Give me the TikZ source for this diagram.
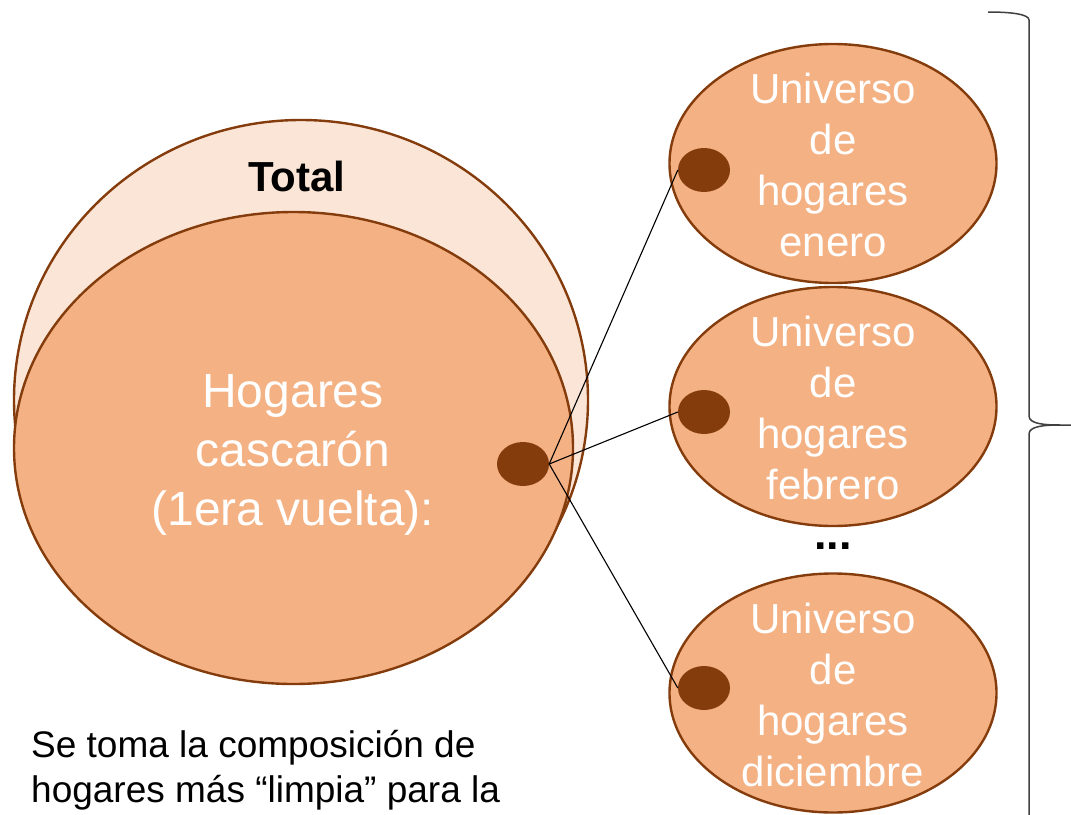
\documentclass[tikz,border=0pt]{standalone}
\usepackage{fontspec}
\setmainfont{Liberation Sans}
\usetikzlibrary{shapes.geometric}
\definecolor{edgebrown}{HTML}{843C0C}
\definecolor{fillmid}{HTML}{F4B183}
\definecolor{filllight}{HTML}{FBE5D6}
\definecolor{bracegray}{HTML}{404040}
\tikzset{
  blob/.style={ellipse, draw=edgebrown, line width=2.4pt, inner sep=0pt},
  dot/.style={ellipse, fill=edgebrown, inner sep=0pt, minimum width=52pt, minimum height=44pt},
  whitetext/.style={text=white, align=center, inner sep=0pt},
  link/.style={black, line width=1.1pt},
}
\begin{document}
\begin{tikzpicture}[x=1pt, y=-1pt]
\useasboundingbox (0,0) rectangle (1071,814);
% big circles
\node[blob, fill=filllight, minimum width=574pt, minimum height=560pt] (total) at (301,400) {};
\node[blob, fill=fillmid, minimum width=559pt, minimum height=472pt] (shell) at (293.5,448) {};
\node[inner sep=0pt, font=\fontsize{42}{50}\selectfont\bfseries] (totallabel) at (297,176) {Total};
\node[whitetext, font=\fontsize{48}{59}\selectfont] (shelllabel) at (293,455) {Hogares\\cascarón\\(1era vuelta):};
\node[dot] (bigdot) at (523,464) {};
% right ellipses
\node[blob, fill=fillmid, minimum width=327pt, minimum height=239pt] (jan) at (833,163.5) {};
\node[blob, fill=fillmid, minimum width=327pt, minimum height=239pt] (feb) at (833,406.5) {};
\node[blob, fill=fillmid, minimum width=327pt, minimum height=239pt] (dec) at (833,693) {};
\node[whitetext, font=\fontsize{42}{51}\selectfont] (janlabel) at (833,165) {Universo\\de\\hogares\\enero};
\node[whitetext, font=\fontsize{42}{51}\selectfont] (feblabel) at (833,408) {Universo\\de\\hogares\\febrero};
\node[whitetext, font=\fontsize{42}{51}\selectfont] (declabel) at (833,694.5) {Universo\\de\\hogares\\diciembre};
\node[dot] (jandot) at (704,170) {};
\node[dot] (febdot) at (704,412) {};
\node[dot] (decdot) at (704,688) {};
\node[inner sep=0pt, font=\fontsize{45}{50}\selectfont\bfseries] (dots) at (833,546) {...};
% connectors
\draw[link] (bigdot.east) -- (jandot.west);
\draw[link] (bigdot.east) -- (febdot.west);
\draw[link] (bigdot.east) -- (decdot.west);
% brace
\coordinate (bracetop) at (988,12);
\coordinate (bracetip) at (1071,425);
\coordinate (bracebottom) at (1029,820);
\draw[bracegray, line width=1.5pt] (bracetop) .. controls (1010,12) and (1029,14) .. (1029,20)
  -- (1029,416) .. controls (1029,424) and (1045,425) .. (1060,425) -- (bracetip);
\draw[bracegray, line width=1.5pt] (1060,425) .. controls (1045,425) and (1029,426) .. (1029,434) -- (bracebottom);
% bottom text
\node[anchor=west, align=left, inner sep=0pt, font=\fontsize{37}{44.5}\selectfont] (note) at (31,770) {Se toma la composición de\\hogares más “limpia” para la};
\end{tikzpicture}
\end{document}
